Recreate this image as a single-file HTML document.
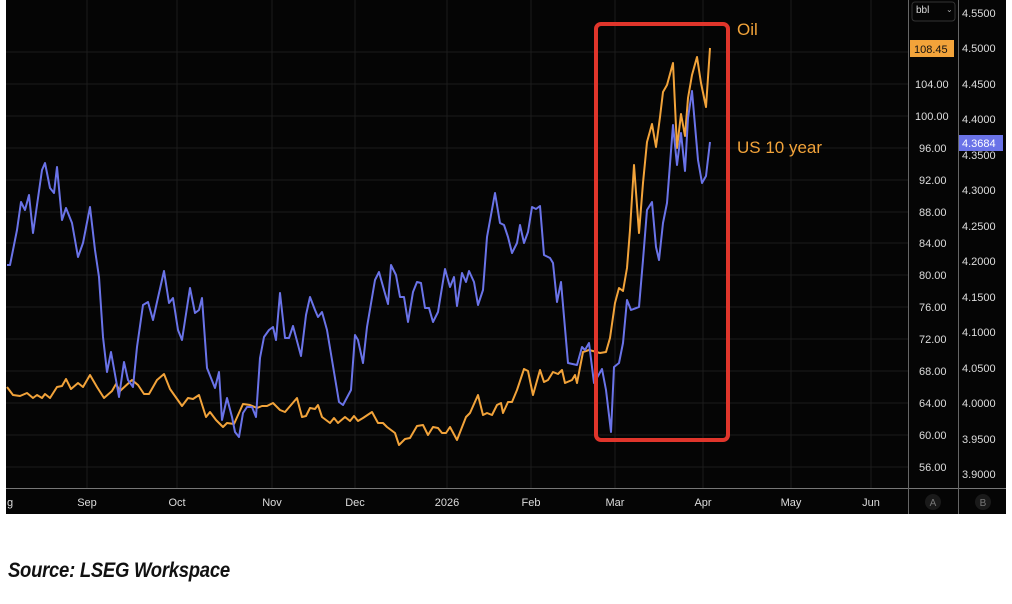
<!DOCTYPE html>
<html><head><meta charset="utf-8"><style>
html,body{margin:0;padding:0;background:#fff;width:1012px;height:604px;overflow:hidden}
svg{position:absolute;left:0;top:0}
.src{position:absolute;left:8px;top:559px;font:italic bold 21px "Liberation Sans Narrow","Liberation Sans",sans-serif;color:#111;transform:scaleX(0.88);transform-origin:left top;letter-spacing:-0.3px}
</style></head><body>
<svg width="1012" height="604" viewBox="0 0 1012 604" font-family="Liberation Sans, sans-serif">
<rect x="6" y="0" width="1000" height="514" fill="#050505"/>
<g stroke="#1c1c1c" stroke-width="1">
<line x1="6" x2="908" y1="52" y2="52"/><line x1="6" x2="908" y1="84" y2="84"/><line x1="6" x2="908" y1="116" y2="116"/><line x1="6" x2="908" y1="148" y2="148"/><line x1="6" x2="908" y1="180" y2="180"/><line x1="6" x2="908" y1="212" y2="212"/><line x1="6" x2="908" y1="243" y2="243"/><line x1="6" x2="908" y1="275" y2="275"/><line x1="6" x2="908" y1="307" y2="307"/><line x1="6" x2="908" y1="339" y2="339"/><line x1="6" x2="908" y1="371" y2="371"/><line x1="6" x2="908" y1="403" y2="403"/><line x1="6" x2="908" y1="435" y2="435"/><line x1="6" x2="908" y1="467" y2="467"/>
<line x1="87" x2="87" y1="0" y2="488"/><line x1="177" x2="177" y1="0" y2="488"/><line x1="272" x2="272" y1="0" y2="488"/><line x1="355" x2="355" y1="0" y2="488"/><line x1="447" x2="447" y1="0" y2="488"/><line x1="531" x2="531" y1="0" y2="488"/><line x1="615" x2="615" y1="0" y2="488"/><line x1="703" x2="703" y1="0" y2="488"/><line x1="791" x2="791" y1="0" y2="488"/><line x1="871" x2="871" y1="0" y2="488"/>
</g>
<line x1="6" x2="1006" y1="488.5" y2="488.5" stroke="#777"/>
<line x1="908.5" x2="908.5" y1="0" y2="514" stroke="#666"/>
<line x1="958.5" x2="958.5" y1="0" y2="514" stroke="#666"/>
<polyline fill="none" stroke="#f2a33a" stroke-width="2" stroke-linejoin="round" points="7,387 13,395 20,396 27,393 33,398 37,395 42,398 45,394 50,398 57,387 62,386 66,379 71,389 78,383 83,387 90,375 97,387 104,398 112,391 116,384 120,391 132,380 138,385 144,394 149,394 157,380 164,374 170,389 182,406 188,398 193,399 199,395 206,417 210,412 216,420 223,427 227,423 234,424 243,404 250,405 257,408 262,406 267,406 273,403 280,410 285,412 297,398 302,417 306,416 310,408 315,409 318,405 322,417 330,423 334,418 338,423 345,417 350,421 354,416 358,421 363,418 372,412 378,423 383,423 387,427 395,433 399,445 405,439 410,438 417,426 423,425 428,435 433,427 438,428 442,433 446,433 450,427 457,440 466,417 470,413 478,395 483,415 487,413 492,415 497,405 501,403 503,413 508,402 512,402 517,390 524,369 528,371 533,395 540,370 544,382 548,380 553,372 558,374 562,370 565,383 572,380 575,375 577,383 583,352 589,350 593,351 600,353 606,352 610,338 615,303 619,288 623,291 627,268 630,230 634,165 639,233 643,183 647,142 652,124 656,147 660,117 663,92 667,85 673,63 677,148 681,114 685,136 688,98 692,75 697,57 701,83 706,107 710,48"/>
<polyline fill="none" stroke="#6a73e8" stroke-width="2" stroke-linejoin="round" points="7,265 10,265 17,230 21,202 25,210 29,195 33,233 42,170 45,163 50,188 54,193 57,167 62,220 66,208 72,223 78,257 83,243 90,207 95,250 99,277 103,337 107,372 111,352 116,380 119,397 124,362 128,380 133,387 137,347 143,305 148,302 153,320 157,302 164,271 169,303 173,298 178,330 182,340 190,288 195,313 199,310 202,298 207,368 215,388 219,372 222,420 227,398 232,417 235,432 239,437 243,413 247,407 252,407 256,417 260,358 264,337 269,330 273,327 276,340 280,293 285,338 289,338 293,326 301,356 306,315 310,297 315,310 318,317 322,312 327,330 332,360 339,402 343,405 351,390 355,335 358,340 363,363 367,327 375,280 379,272 384,290 388,304 391,265 396,275 400,297 404,297 408,322 413,292 417,282 421,283 425,308 429,308 433,322 438,312 445,269 450,287 454,277 457,306 462,273 466,282 469,271 474,282 478,305 483,290 487,237 495,193 500,223 504,225 508,237 512,253 517,243 520,225 524,243 528,232 532,207 536,209 540,206 544,255 550,258 553,263 557,302 561,282 568,363 577,365 582,347 585,350 589,343 594,383 602,369 606,390 611,432 614,367 619,363 623,343 627,300 631,310 639,307 643,260 647,210 652,202 656,247 659,260 663,223 667,203 673,125 677,165 681,133 685,171 688,118 692,91 698,160 702,183 706,176 710,142"/>
<rect x="596" y="24" width="132" height="416" rx="5" fill="none" stroke="#e0352b" stroke-width="4"/>
<text x="737" y="35" fill="#f2a33a" font-size="17">Oil</text>
<text x="737" y="153" fill="#f2a33a" font-size="17">US 10 year</text>
<g fill="#ddd" font-size="11" text-anchor="middle">
<text x="7" y="506" text-anchor="start">g</text><text x="87" y="506">Sep</text><text x="177" y="506">Oct</text><text x="272" y="506">Nov</text><text x="355" y="506">Dec</text><text x="447" y="506">2026</text><text x="531" y="506">Feb</text><text x="615" y="506">Mar</text><text x="703" y="506">Apr</text><text x="791" y="506">May</text><text x="871" y="506">Jun</text>
</g>
<circle cx="933" cy="502" r="8" fill="#1a1a1a"/><text x="933" y="506" fill="#777" font-size="10" text-anchor="middle">A</text>
<circle cx="983" cy="502" r="8" fill="#1a1a1a"/><text x="983" y="506" fill="#777" font-size="10" text-anchor="middle">B</text>
<rect x="912" y="2" width="43" height="19" rx="3" fill="none" stroke="#333"/>
<text x="916" y="13" fill="#ddd" font-size="10">bbl</text><text x="946" y="12" fill="#aaa" font-size="8">⌄</text>
<g fill="#ddd" font-size="11">
<text x="915" y="88">104.00</text><text x="915" y="120">100.00</text><text x="919" y="152">96.00</text><text x="919" y="184">92.00</text><text x="919" y="216">88.00</text><text x="919" y="247">84.00</text><text x="919" y="279">80.00</text><text x="919" y="311">76.00</text><text x="919" y="343">72.00</text><text x="919" y="375">68.00</text><text x="919" y="407">64.00</text><text x="919" y="439">60.00</text><text x="919" y="471">56.00</text>
<text x="962" y="17">4.5500</text><text x="962" y="52">4.5000</text><text x="962" y="88">4.4500</text><text x="962" y="123">4.4000</text><text x="962" y="159">4.3500</text><text x="962" y="194">4.3000</text><text x="962" y="230">4.2500</text><text x="962" y="265">4.2000</text><text x="962" y="301">4.1500</text><text x="962" y="336">4.1000</text><text x="962" y="372">4.0500</text><text x="962" y="407">4.0000</text><text x="962" y="443">3.9500</text><text x="962" y="478">3.9000</text>
</g>
<rect x="910" y="40" width="44" height="17" fill="#f2a33a"/>
<text x="914" y="53" fill="#111" font-size="11">108.45</text>
<rect x="959" y="135" width="44" height="16" fill="#6a73e8"/>
<text x="962" y="147" fill="#fff" font-size="11">4.3684</text>
</svg>
<div class="src">Source: LSEG Workspace</div>
</body></html>
